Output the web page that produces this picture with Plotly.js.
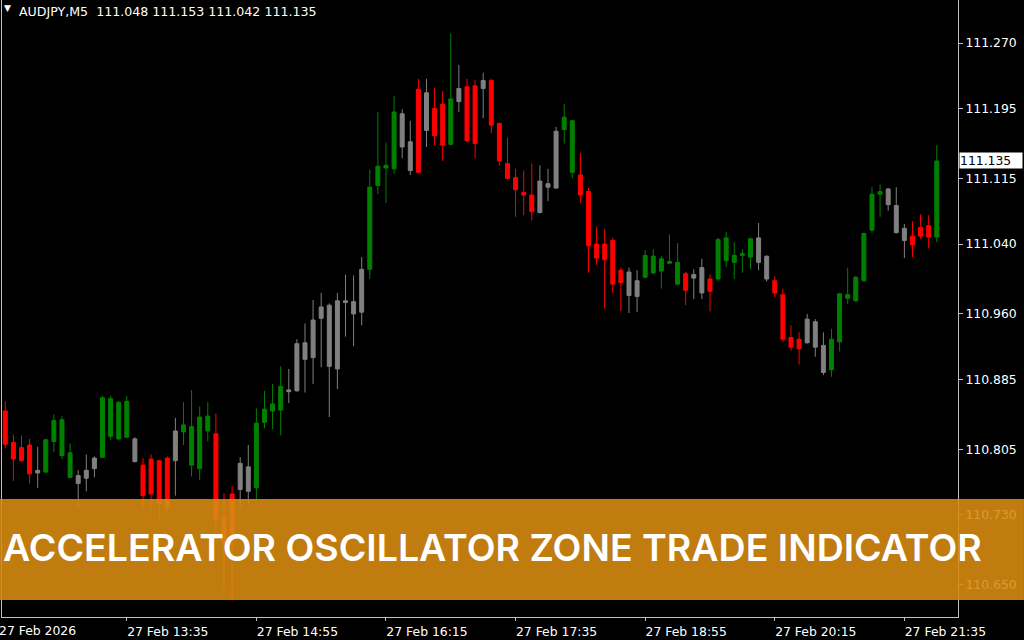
<!DOCTYPE html>
<html>
<head>
<meta charset="utf-8">
<script src="https://cdn.plot.ly/plotly-3.0.1.min.js"></script>
<style>
html,body{margin:0;padding:0;background:#000;overflow:hidden}
#chart{width:1024px;height:640px}
</style>
</head>
<body>
<div id="chart"></div>
<script>
// ---- data: AUDJPY M5, 27 Feb 2026 ----
const times = [
"12:20","12:25","12:30","12:35","12:40","12:45","12:50","12:55",
"13:00","13:05","13:10","13:15","13:20","13:25","13:30","13:35","13:40","13:45","13:50","13:55",
"14:00","14:05","14:10","14:15","14:20","14:25","14:30","14:35","14:40","14:45","14:50","14:55",
"15:00","15:05","15:10","15:15","15:20","15:25","15:30","15:35","15:40","15:45","15:50","15:55",
"16:00","16:05","16:10","16:15","16:20","16:25","16:30","16:35","16:40","16:45","16:50","16:55",
"17:00","17:05","17:10","17:15","17:20","17:25","17:30","17:35","17:40","17:45","17:50","17:55",
"18:00","18:05","18:10","18:15","18:20","18:25","18:30","18:35","18:40","18:45","18:50","18:55",
"19:00","19:05","19:10","19:15","19:20","19:25","19:30","19:35","19:40","19:45","19:50","19:55",
"20:00","20:05","20:10","20:15","20:20","20:25","20:30","20:35","20:40","20:45","20:50","20:55",
"21:00","21:05","21:10","21:15","21:20","21:25","21:30","21:35","21:40","21:45","21:50","21:55"
];
const open = [
110.849,110.813,110.792,110.810,110.778,110.779,110.814,110.839,110.801,110.775,
110.772,110.783,110.796,110.863,110.817,110.860,110.817,110.787,110.754,110.792,
110.738,110.792,110.825,110.831,110.783,110.843,110.823,110.727,110.701,110.759,
110.785,110.761,110.836,110.849,110.850,110.873,110.872,110.927,110.910,110.955,
110.970,110.897,110.975,110.974,110.962,111.011,111.107,111.127,111.126,111.189,
111.157,111.122,111.213,111.164,111.200,111.154,111.203,111.220,111.155,111.218,
111.227,111.178,111.132,111.116,111.099,111.096,111.076,111.109,111.104,111.171,
111.181,111.119,111.100,111.040,111.022,111.044,110.996,111.008,110.980,111.002,
111.026,111.009,111.020,111.019,110.987,111.005,111.013,110.986,111.000,111.047,
111.019,111.027,111.025,111.047,111.026,110.998,110.982,110.933,110.920,110.927,
110.951,110.924,110.896,110.928,110.982,110.975,110.998,111.056,111.097,111.103,
111.084,111.058,111.049,111.049,111.061,111.048
];
const high = [
110.860,110.822,110.821,110.817,110.808,110.817,110.845,110.843,110.812,110.781,
110.799,110.797,110.866,110.866,110.860,110.866,110.819,110.795,110.799,110.793,
110.797,110.841,110.859,110.873,110.854,110.859,110.846,110.755,110.763,110.796,
110.810,110.852,110.872,110.880,110.900,110.897,110.931,110.949,110.976,110.984,
110.972,110.984,111.005,111.004,111.025,111.125,111.191,111.156,111.209,111.194,
111.181,111.229,111.229,111.219,111.215,111.281,111.245,111.229,111.228,111.236,
111.229,111.179,111.162,111.126,111.124,111.132,111.130,111.126,111.174,111.200,
111.182,111.144,111.104,111.060,111.057,111.047,111.013,111.013,111.010,111.033,
111.034,111.026,111.051,111.041,111.008,111.011,111.023,111.005,111.047,111.054,
111.042,111.034,111.047,111.064,111.027,111.003,110.989,110.947,110.939,110.960,
110.954,110.939,110.943,110.984,111.013,111.003,111.053,111.105,111.108,111.104,
111.105,111.063,111.066,111.074,111.073,111.153
];
const low = [
110.806,110.769,110.791,110.766,110.761,110.778,110.802,110.794,110.772,110.738,
110.757,110.773,110.795,110.816,110.816,110.818,110.790,110.736,110.733,110.722,
110.734,110.752,110.810,110.774,110.770,110.814,110.709,110.645,110.632,110.739,
110.743,110.747,110.829,110.828,110.821,110.858,110.871,110.870,110.880,110.899,
110.842,110.874,110.934,110.923,110.947,111.000,111.097,111.087,111.120,111.138,
111.119,111.121,111.151,111.153,111.135,111.153,111.191,111.157,111.138,111.184,
111.167,111.130,111.114,111.071,111.073,111.067,111.075,111.089,111.103,111.155,
111.115,111.087,111.007,111.016,110.966,110.984,110.963,110.961,110.962,111.001,
111.005,110.989,111.017,110.993,110.970,110.977,110.977,110.963,110.998,111.014,
111.000,111.007,111.011,111.010,110.997,110.979,110.928,110.918,110.902,110.926,
110.911,110.890,110.888,110.917,110.971,110.974,110.997,111.053,111.071,111.078,
111.052,111.024,111.025,111.046,111.035,111.042
];
const close = [
110.811,110.794,110.807,110.777,110.781,110.816,110.838,110.798,110.773,110.766,
110.781,110.795,110.864,110.820,110.859,110.819,110.791,110.752,110.794,110.743,
110.795,110.826,110.833,110.787,110.842,110.826,110.725,110.698,110.754,110.789,
110.757,110.835,110.851,110.857,110.877,110.871,110.926,110.908,110.953,110.968,
110.900,110.975,110.973,110.960,111.011,111.105,111.129,111.130,111.191,111.151,
111.124,111.217,111.170,111.195,111.153,111.206,111.218,111.158,111.221,111.227,
111.176,111.135,111.115,111.102,111.096,111.077,111.112,111.105,111.169,111.185,
111.122,111.096,111.038,111.024,111.040,110.994,111.010,110.981,110.998,111.027,
111.007,111.023,111.018,110.994,111.006,111.001,110.984,111.000,111.045,111.021,
111.027,111.029,111.046,111.019,111.000,110.984,110.931,110.922,110.931,110.954,
110.922,110.893,110.931,110.983,110.978,111.002,111.052,111.097,111.100,111.085,
111.053,111.044,111.039,111.059,111.048,111.135
];
// zone of each bar: G = green (accelerating up), R = red (accelerating down), N = gray (neutral)
const zones = ("RRRR N GGGG NNN GGGG N RRRR N GGGG RRR NN GGGG NNNNNNNNNN GGGG NN R N RR G N RR N " +
               "RRRRRR NNN GG RRRRRR NN GGGGG R NN R GGGGG NN RRRR NNN GGGGGGG NNN RRR G").replace(/ /g,"").split("");

const priceTicks = [111.270, 111.195, 111.115, 111.040, 110.960, 110.885, 110.805, 110.730, 110.650];
const timeTicks = ["13:35","14:55","16:15","17:35","18:55","20:15","21:35"];
const timeTickText = ["27 Feb 13:35","27 Feb 14:55","27 Feb 16:15","27 Feb 17:35","27 Feb 18:55","27 Feb 20:15","27 Feb 21:35"];
const symbolText = "AUDJPY,M5";
const lastBar = {open: 111.048, high: 111.153, low: 111.042, close: 111.135};
const firstDateLabel = "27 Feb 2026";
const bannerText = "ACCELERATOR OSCILLATOR ZONE TRADE INDICATOR";

// ---- drawing ----
const zoneColors = {G: "#008000", R: "#ff0000", N: "#808080"};
const traces = ["G","R","N"].map(z => {
  const idx = [];
  zones.forEach((v,i) => { if (v === z) idx.push(i); });
  const c = zoneColors[z];
  return {
    type: "candlestick",
    x: idx.map(i => times[i]),
    open: idx.map(i => open[i]),
    high: idx.map(i => high[i]),
    low: idx.map(i => low[i]),
    close: idx.map(i => close[i]),
    increasing: {line: {color: c, width: 1}, fillcolor: c},
    decreasing: {line: {color: c, width: 1}, fillcolor: c},
    whiskerwidth: 0,
    hoverinfo: "skip",
    showlegend: false
  };
});

const axisFont = {family: "DejaVu Sans", size: 12.4, color: "#ffffff"};
const frame = "#c0c0c0";

const layout = {
  width: 1024, height: 640,
  paper_bgcolor: "#000000", plot_bgcolor: "#000000",
  margin: {l: 2, r: 66, t: 0, b: 23, pad: 0},
  boxmode: "overlay", boxgap: 0.3, boxgroupgap: 0.3,
  showlegend: false,
  xaxis: {
    type: "category", categoryorder: "array", categoryarray: times,
    range: [-0.407, 117.62],
    rangeslider: {visible: false},
    showgrid: false, zeroline: false,
    showline: true, linecolor: frame, linewidth: 1,
    ticks: "outside", ticklen: 3, tickcolor: frame, tickwidth: 1,
    tickmode: "array", tickvals: timeTicks, ticktext: timeTickText,
    ticklabelshift: 41, ticklabeloverflow: "allow",
    tickfont: axisFont, fixedrange: true
  },
  yaxis: {
    side: "right", range: [110.6132, 111.3192],
    showgrid: false, zeroline: false,
    showline: true, mirror: true, linecolor: frame, linewidth: 1,
    ticks: "outside", ticklen: 4, tickcolor: frame, tickwidth: 1,
    tickmode: "array", tickvals: priceTicks, ticktext: priceTicks.map(v => v.toFixed(3)),
    tickfont: axisFont, fixedrange: true
  },
  shapes: [{
    type: "rect", xref: "paper", yref: "paper", layer: "above",
    x0: -0.0021, x1: 1.069, y0: 1 - 600/617, y1: 1 - 499/617,
    fillcolor: "rgba(217,139,18,0.89)", line: {width: 0}
  }],
  annotations: [
    {xref: "paper", yref: "paper", x: 0, y: 1, xanchor: "left", yanchor: "top",
     xshift: 0, yshift: -1, text: "\u25BC", showarrow: false,
     font: {family: "DejaVu Sans", size: 9, color: "#ffffff"}},
    {xref: "paper", yref: "paper", x: 0, y: 1, xanchor: "left", yanchor: "top",
     xshift: 15, yshift: -2,
     text: symbolText + "\u00a0\u00a0" + [lastBar.open, lastBar.high, lastBar.low, lastBar.close].map(v => v.toFixed(3)).join(" "),
     showarrow: false, font: {family: "DejaVu Sans", size: 12.6, color: "#ffffff"}},
    {xref: "paper", yref: "paper", x: 0, y: 0, xanchor: "left", yanchor: "top",
     xshift: -5, yshift: -4, text: firstDateLabel, showarrow: false, font: axisFont},
    {xref: "paper", yref: "y", x: 1, y: lastBar.close, xanchor: "left", yanchor: "middle",
     xshift: 1, text: lastBar.close.toFixed(3), showarrow: false, align: "left",
     width: 62, bgcolor: "#ffffff", borderpad: 0,
     font: {family: "DejaVu Sans", size: 12.4, color: "#000000"}},
    {xref: "paper", yref: "paper", x: (492.5 - 2)/956, y: 1 - 547.7/617,
     xanchor: "center", yanchor: "middle", text: bannerText, showarrow: false,
     font: {family: "Inter", size: 37.5, weight: 600, color: "#ffffff"}}
  ]
};

Plotly.newPlot("chart", traces, layout, {staticPlot: true, displayModeBar: false});
</script>
</body>
</html>
